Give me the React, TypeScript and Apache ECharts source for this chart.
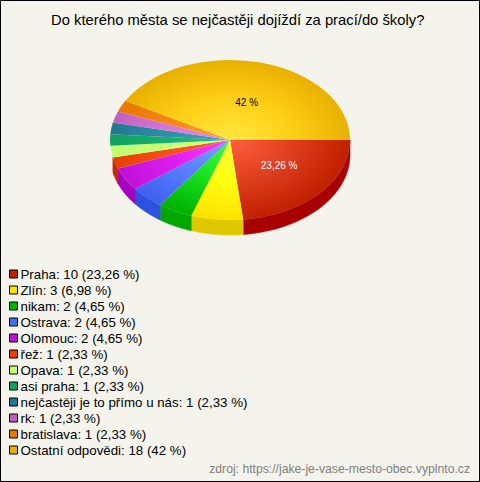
import React, { useEffect, useRef } from "react";
import * as echarts from "echarts";

const title = "Do kterého města se nejčastěji dojíždí za prací/do školy?";
const source = "zdroj: https://jake-je-vase-mesto-obec.vyplnto.cz";
const names = ["Praha", "Zlín", "nikam", "Ostrava", "Olomouc", "řež", "Opava", "asi praha", "nejčastěji je to přímo u nás", "rk", "bratislava", "Ostatní odpovědi"];
const counts = [10, 3, 2, 2, 2, 1, 1, 1, 1, 1, 1, 18];
const percents = ["23,26", "6,98", "4,65", "4,65", "4,65", "2,33", "2,33", "2,33", "2,33", "2,33", "2,33", "42"];
const legendColors = ["#c02000", "#ffe000", "#00b800", "#4070f0", "#c010d8", "#e84000", "#c8ff70", "#10a060", "#207890", "#c060c0", "#e87800", "#e8b000"];
const innerColors = ["#ff6040", "#ffff40", "#40ff40", "#80a0ff", "#ff40ff", "#ff6030", "#d8ff90", "#30c080", "#40a0b8", "#e090e0", "#ffa030", "#ffe840"];
const midColors = ["#e04020", "#ffff10", "#18e020", "#5880ff", "#e020f0", "#f85018", "#c8ff78", "#18b070", "#3090a8", "#d878d8", "#f88818", "#ffd018"];
const outerColors = ["#c02000", "#ffe000", "#00b000", "#4060f0", "#c010d8", "#e84000", "#c0ff70", "#10a060", "#207890", "#c060c0", "#e87800", "#e8b000"];
const wallColors = ["#a80000", "#e0c800", "#00a800", "#2c50e0", "#a800c0", "#c82800", "", "", "", "", "", ""];
const shownLabels = ["23,26 %", "", "", "", "", "", "", "", "", "", "", "42 %"];
const labelColors = ["#ffffff", "", "", "", "", "", "", "", "", "", "", "#000000"];

const CX = 230, CY = 140, RX = 120, RY = 80, DEPTH = 15;
const total = counts.reduce((a, b) => a + b, 0);

function sliceRenderer(i: number) {
  const before = counts.slice(0, i).reduce((a, b) => a + b, 0);
  const a0 = (before / total) * Math.PI * 2;
  const a1 = ((before + counts[i]) / total) * Math.PI * 2;
  return () => {
    const children: any[] = [];
    if (wallColors[i]) {
      const top: number[][] = [];
      const steps = 40;
      for (let k = 0; k <= steps; k++) {
        const t = a0 + ((a1 - a0) * k) / steps;
        top.push([CX + RX * Math.cos(t), CY + RY * Math.sin(t)]);
      }
      const bottom = top.map((p) => [p[0], p[1] + DEPTH]).reverse();
      children.push({
        type: "polygon",
        shape: { points: top.concat(bottom) },
        style: { fill: wallColors[i], stroke: wallColors[i], lineWidth: 0.5 },
      });
    }
    children.push({
      type: "sector",
      x: CX,
      y: CY,
      scaleY: RY / RX,
      shape: { cx: 0, cy: 0, r: RX, r0: 0, startAngle: a0, endAngle: a1, clockwise: true },
      style: {
        fill: new echarts.graphic.RadialGradient(0, 0, RX, [
          { offset: 0, color: innerColors[i] },
          { offset: 0.5, color: midColors[i] },
          { offset: 1, color: outerColors[i] },
        ], true),
      },
    });
    if (shownLabels[i]) {
      const mid = (a0 + a1) / 2;
      children.push({
        type: "text",
        x: CX + RX * 0.55 * Math.cos(mid),
        y: CY + RY * 0.48 * Math.sin(mid),
        style: { text: shownLabels[i], fill: labelColors[i], font: "10px 'Liberation Sans'", align: "center", verticalAlign: "middle" },
      });
    }
    return { type: "group", children };
  };
}

export default function App() {
  const ref = useRef<HTMLDivElement>(null);
  useEffect(() => {
    const chart = echarts.init(ref.current!, null, { renderer: "svg" });
    chart.setOption({
      animation: false,
      backgroundColor: "#f5f4ec",
      title: {
        text: title,
        left: 46,
        top: 7,
        textStyle: { fontFamily: "Liberation Sans", fontSize: 14.8, fontWeight: "normal", color: "#000" },
      },
      legend: {
        orient: "vertical",
        left: 9,
        top: 267,
        padding: 0,
        itemWidth: 8,
        itemHeight: 8,
        itemGap: 2,
        selectedMode: false,
        icon: "rect",
        data: names.map((n, i) => ({
          name: n,
          itemStyle: { color: legendColors[i], borderColor: "#000", borderWidth: 1 },
        })),
        formatter: (n: string) => {
          const i = names.indexOf(n);
          return `${n}: ${counts[i]} (${percents[i]} %)`;
        },
        textStyle: { fontFamily: "Liberation Sans", fontSize: 13.3, lineHeight: 14, color: "#000", padding: [0, 0, 0, -2] },
      },
      graphic: [
        { type: "rect", shape: { x: 0.5, y: 0.5, width: 479, height: 481 }, style: { fill: "none", stroke: "#000", lineWidth: 1 } },
        { type: "text", x: 470, y: 469, style: { text: source, fill: "#808080", font: "12.2px 'Liberation Sans'", align: "right", verticalAlign: "middle" } },
      ],
      series: names.map((n, i) => ({
        type: "custom",
        name: n,
        coordinateSystem: "none",
        data: [counts[i]],
        renderItem: sliceRenderer(i),
        itemStyle: { color: legendColors[i] },
        silent: true,
      })),
    });
    return () => chart.dispose();
  }, []);
  return <div ref={ref} style={{ width: 480, height: 482, position: "absolute", left: 0, top: 0 }} />;
}
